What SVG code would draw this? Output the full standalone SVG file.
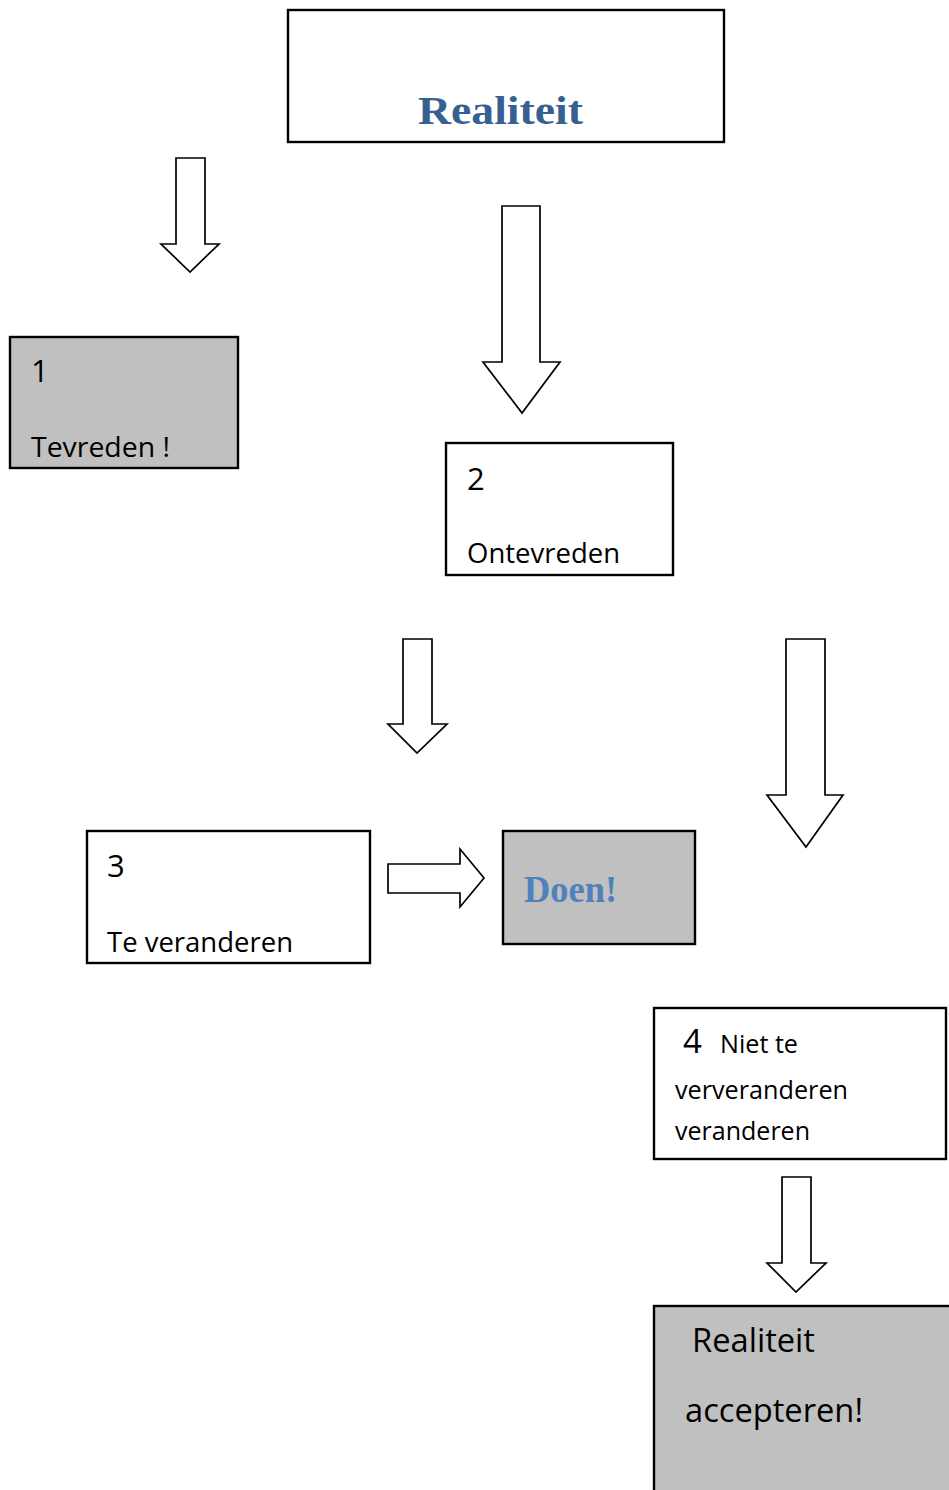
<svg xmlns="http://www.w3.org/2000/svg" width="949" height="1490" viewBox="0 0 949 1490">
<style>
.box{fill:#ffffff;stroke:#000;stroke-width:2.4}
.gray{fill:#c0c0c0;stroke:#000;stroke-width:2.4}
.arr{fill:#ffffff;stroke:#000;stroke-width:1.7;stroke-linejoin:miter}
.t{font-family:"Open Sans","Liberation Sans",sans-serif;fill:#000}
.s{font-family:"Liberation Serif",serif;font-weight:bold}
</style>
<rect width="949" height="1490" fill="#ffffff"/>
<g id="connectors">
<polygon class="arr" points="176,158 205,158 205,244 219,244 190,272 161,244 176,244"/>
<polygon class="arr" points="502,206 540,206 540,362 560,362 522,413 483,362 502,362"/>
<polygon class="arr" points="403,639 432,639 432,724 447,724 417,753 388,724 403,724"/>
<polygon class="arr" points="786,639 825,639 825,795 843,795 806,847 767,795 786,795"/>
<polygon class="arr" points="388,864 460,864 460,849 484,878 460,907 460,893 388,893"/>
<polygon class="arr" points="782,1177 811,1177 811,1263 826,1263 796,1292 767,1263 782,1263"/>
</g>
<g id="node-realiteit">
<rect class="box" x="288" y="10" width="436" height="132"/>
<text class="s" x="418" y="124" font-size="41" fill="#376092" textLength="165" lengthAdjust="spacingAndGlyphs">Realiteit</text>
</g>
<g id="node-1">
<rect class="gray" x="10" y="337" width="228" height="131"/>
<text class="t" x="31" y="382" font-size="31">1</text>
<text class="t" x="31" y="457" font-size="28" textLength="139" lengthAdjust="spacingAndGlyphs">Tevreden !</text>
</g>
<g id="node-2">
<rect class="box" x="446" y="443" width="227" height="132"/>
<text class="t" x="467" y="490" font-size="31">2</text>
<text class="t" x="467" y="563" font-size="28" textLength="153" lengthAdjust="spacingAndGlyphs">Ontevreden</text>
</g>
<g id="node-3">
<rect class="box" x="87" y="831" width="283" height="132"/>
<text class="t" x="107" y="877" font-size="31">3</text>
<text class="t" x="107" y="952" font-size="28" textLength="186" lengthAdjust="spacingAndGlyphs">Te veranderen</text>
</g>
<g id="node-doen">
<rect class="gray" x="503" y="831" width="192" height="113"/>
<text class="s" x="524" y="902" font-size="37" fill="#4f81bd" textLength="93" lengthAdjust="spacingAndGlyphs">Doen!</text>
</g>
<g id="node-4">
<rect class="box" x="654" y="1008" width="292" height="151"/>
<text class="t" x="683" y="1053" font-size="33">4</text>
<text class="t" x="720" y="1053" font-size="25" textLength="78" lengthAdjust="spacingAndGlyphs">Niet te</text>
<text class="t" x="675" y="1099" font-size="25" textLength="173" lengthAdjust="spacingAndGlyphs">ververanderen</text>
<text class="t" x="675" y="1140" font-size="25" textLength="135" lengthAdjust="spacingAndGlyphs">veranderen</text>
</g>
<g id="node-accepteren">
<rect class="gray" x="654" y="1306" width="300" height="190"/>
<text class="t" x="692" y="1352" font-size="32" textLength="123" lengthAdjust="spacingAndGlyphs">Realiteit</text>
<text class="t" x="685" y="1422" font-size="32" textLength="178" lengthAdjust="spacingAndGlyphs">accepteren!</text>
</g>
</svg>
